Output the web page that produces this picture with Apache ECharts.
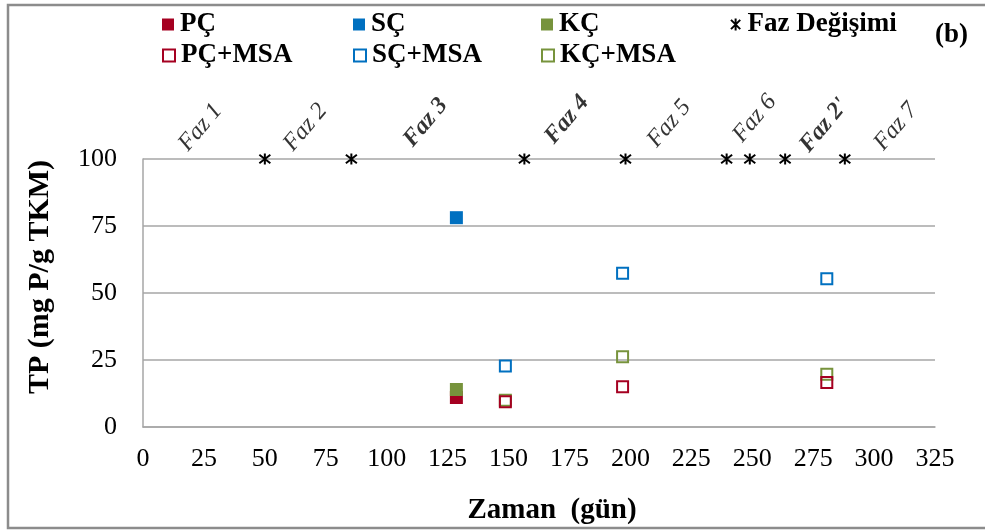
<!DOCTYPE html>
<html>
<head>
<meta charset="utf-8">
<script src="https://cdn.jsdelivr.net/npm/echarts@6/dist/echarts.min.js"></script>
<style>
  html, body { margin: 0; padding: 0; background: #fff; }
  #chart { width: 985px; height: 531px; }
</style>
</head>
<body>
<div id="chart"></div>
<script>
// Total phosphorus (mg P / g TKM) over time (days), per reactor
const xTicks = [0, 325, 25];               // min, max, step (days)
const yTicks = [0, 100, 25];               // min, max, step

const pc      = [[128.6, 11.0]];
const sc      = [[128.6, 78.1]];
const kc      = [[128.6, 14.0]];
const pcMsa   = [[148.7, 9.4], [196.8, 15.0], [280.6, 16.6]];
const scMsa   = [[148.7, 22.8], [196.8, 57.4], [280.6, 55.3]];
const kcMsa   = [[148.7, 10.0], [196.8, 26.2], [280.6, 19.7]];

// Days on which the operating phase changed
const phaseChangeDays = [50, 85.5, 156.5, 198, 239.5, 249, 263.5, 288];
const phaseChangeLevel = 100;

// Phase names written above the plot
const phaseNames = ['Faz 1', 'Faz 2', 'Faz 3', 'Faz 4', 'Faz 5', 'Faz 6', "Faz 2'", 'Faz 7'];
const phaseNameX = [23.6, 66.7, 116, 174, 216, 251, 279.5, 309];
const phaseNameY = [111.8, 111.8, 113.6, 114.7, 113.2, 115.1, 112.5, 112.1];
const phaseBold  = [false, false, true, true, false, false, true, false];

// Legend layout: two rows, fixed columns
const legendRow1 = ['PÇ', 'SÇ', 'KÇ', 'Faz Değişimi'];
const legendRow2 = ['PÇ+MSA', 'SÇ+MSA', 'KÇ+MSA'];
const legendCols = [157, 348, 536, 725];

const RED = '#A50021', BLUE = '#0070C0', GREEN = '#77933C';
const SERIF = '"Liberation Serif", "Times New Roman", serif';

const chart = echarts.init(document.getElementById('chart'), null, { renderer: 'canvas' });

function filled(name, data, color, z) {
  return {
    name, type: 'scatter', data, symbol: 'rect', symbolSize: 13, z,
    itemStyle: { color, opacity: 1 }
  };
}
function hollow(name, data, color, z) {
  return {
    name, type: 'scatter', data, symbol: 'rect', symbolSize: 11, z,
    itemStyle: { color: 'transparent', borderColor: color, borderWidth: 2, opacity: 1 }
  };
}

const starPath = 'path://M0,0L10,10M10,0L0,10M5,-1.5L5,11.5';

function legendItem(name, left, top) {
  return {
    data: [name], left, top, itemWidth: 12, itemHeight: 12,
    selectedMode: false,
    textStyle: { fontFamily: SERIF, fontWeight: 'bold', fontSize: 27, color: '#000',
                 padding: [0, 0, 0, 1] }
  };
}

const legends = [];
legendRow1.forEach((n, i) => legends.push(legendItem(n, legendCols[i], 6)));
legendRow2.forEach((n, i) => legends.push(legendItem(n, legendCols[i], 37)));

const option = {
  animation: false,
  backgroundColor: '#fff',
  title: {
    text: '(b)', left: 930, top: 17,
    textStyle: { fontFamily: SERIF, fontWeight: 'bold', fontSize: 27, color: '#000' }
  },
  legend: legends,
  grid: { left: 143, right: 50, top: 159, bottom: 104, containLabel: false },
  xAxis: {
    type: 'value', min: xTicks[0], max: xTicks[1], interval: xTicks[2],
    name: 'Zaman  (gün)', nameLocation: 'middle', nameGap: 69,
    nameTextStyle: { fontFamily: SERIF, fontWeight: 'bold', fontSize: 29, color: '#000',
                     padding: [0, 0, 0, 26] },
    axisLine: { show: true, lineStyle: { color: '#a6a6a6', width: 1.5 } },
    axisTick: { show: false },
    splitLine: { show: false },
    axisLabel: { fontFamily: SERIF, fontSize: 26, color: '#000', margin: 19 }
  },
  yAxis: {
    type: 'value', min: yTicks[0], max: yTicks[1], interval: yTicks[2],
    name: 'TP (mg P/g TKM)', nameLocation: 'middle', nameGap: 88,
    nameTextStyle: { fontFamily: SERIF, fontWeight: 'bold', fontSize: 30, color: '#000',
                     padding: [0, 0, 0, 32] },
    axisLine: { show: true, lineStyle: { color: '#a6a6a6', width: 1.5 } },
    axisTick: { show: false },
    splitLine: { show: true, lineStyle: { color: '#a6a6a6', width: 1.5 } },
    axisLabel: { fontFamily: SERIF, fontSize: 26, color: '#000', margin: 26 }
  },
  graphic: [{
    type: 'rect', silent: true, z: -1,
    shape: { x: 8, y: 5, width: 1000, height: 523 },
    style: { fill: 'none', stroke: '#8c8c8c', lineWidth: 2.5 }
  }],
  series: [
    filled('PÇ', pc, RED, 2),
    filled('SÇ', sc, BLUE, 3),
    filled('KÇ', kc, GREEN, 4),
    {
      name: 'Faz Değişimi', type: 'scatter', z: 5,
      data: phaseChangeDays.map(d => [d, phaseChangeLevel]),
      symbol: starPath, symbolSize: 11,
      itemStyle: { color: 'transparent', borderColor: '#000', borderWidth: 2, opacity: 1 }
    },
    hollow('KÇ+MSA', kcMsa, GREEN, 6),
    hollow('PÇ+MSA', pcMsa, RED, 7),
    hollow('SÇ+MSA', scMsa, BLUE, 8),
    {
      name: 'phases', type: 'scatter', clip: false, silent: true, z: 9,
      symbolSize: 1, itemStyle: { color: 'transparent' },
      data: phaseNames.map((n, i) => ({
        name: n, value: [phaseNameX[i], phaseNameY[i]],
        label: { fontWeight: phaseBold[i] ? 'bold' : 'normal' }
      })),
      label: {
        show: true, position: 'inside', rotate: 50,
        formatter: p => p.name,
        fontFamily: SERIF, fontStyle: 'italic', fontSize: 24, color: '#000',
        align: 'center', verticalAlign: 'middle'
      }
    }
  ]
};

chart.setOption(option);
</script>
</body>
</html>
